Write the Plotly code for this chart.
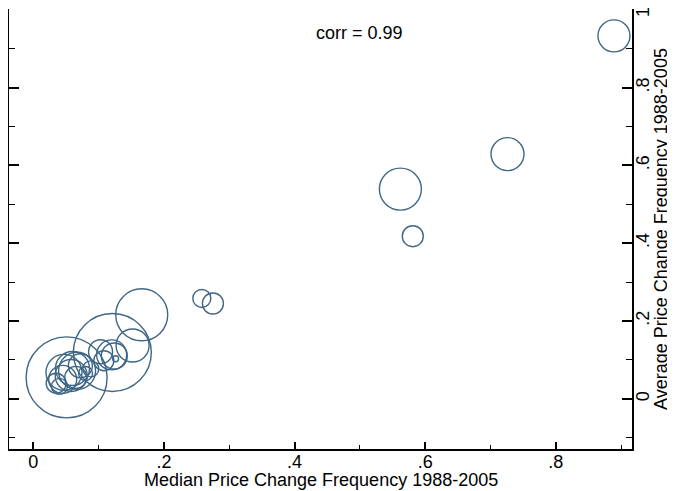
import plotly.graph_objects as go

# Median price change frequency (x), average price change frequency (y), weight (marker diameter)
median_freq = [0.889, 0.726, 0.562, 0.581, 0.258, 0.275, 0.166, 0.121, 0.051, 0.152,
               0.120, 0.124, 0.108, 0.126, 0.047, 0.067, 0.103, 0.088, 0.035, 0.045,
               0.058, 0.065, 0.072, 0.040, 0.060, 0.080]
avg_freq = [0.933, 0.629, 0.539, 0.418, 0.258, 0.245, 0.216, 0.119, 0.055, 0.137,
            0.113, 0.110, 0.098, 0.103, 0.068, 0.072, 0.121, 0.077, 0.040, 0.050,
            0.060, 0.055, 0.085, 0.032, 0.078, 0.065]
weight = [32, 33, 42, 21, 18, 21, 52, 78, 81, 33,
          30, 26, 20, 6, 36, 37, 24, 16, 20, 28,
          32, 22, 24, 16, 34, 14]

xtick_vals = [0, 0.2, 0.4, 0.6, 0.8]
xtick_text = ["0", ".2", ".4", ".6", ".8"]
ytick_vals = [0, 0.2, 0.4, 0.6, 0.8, 1.0]
ytick_text = ["0", ".2", ".4", ".6", ".8", "1\u00a0\u00a0"]

color = "#3f6685"
font = "Liberation Sans, Arial, Helvetica, sans-serif"
fs = 18

fig = go.Figure()
fig.add_trace(go.Scatter(
    x=median_freq, y=avg_freq, mode="markers",
    marker=dict(symbol="circle-open", size=weight, sizemode="diameter", opacity=1,
                color=color, line=dict(color=color, width=1.4)),
    showlegend=False, hoverinfo="skip",
))

fig.add_annotation(x=0.5, y=0.94, xref="x", yref="y", text="corr = 0.99",
                   showarrow=False, font=dict(family=font, size=fs, color="black"))

# axis titles
fig.add_annotation(x=0.5, y=0, xref="paper", yref="paper", yshift=-31,
                   xanchor="center", yanchor="middle", showarrow=False,
                   text="Median Price Change Frequency 1988-2005",
                   font=dict(family=font, size=fs, color="black"))
fig.add_annotation(x=1, y=0.5, xref="paper", yref="paper", xshift=29,
                   xanchor="center", yanchor="middle", showarrow=False, textangle=-90,
                   text="Average Price Change Frequency 1988-2005",
                   font=dict(family=font, size=fs, color="black"))

fig.update_layout(
    width=667, height=483,
    margin=dict(l=1, r=43, t=1, b=42),
    paper_bgcolor="white", plot_bgcolor="white",
    font=dict(family=font, size=fs, color="black"),
    xaxis=dict(
        range=[-0.0372, 0.9166], showgrid=False, zeroline=False, automargin=False,
        showline=True, linecolor="black", linewidth=2,
        ticks="inside", ticklen=7, tickwidth=1.5, tickcolor="black",
        tickvals=xtick_vals, ticktext=xtick_text,
        minor=dict(ticks="inside", ticklen=4, tickwidth=1.2, tickcolor="black",
                   tickvals=[0.1, 0.3, 0.5, 0.7, 0.9], showgrid=False),
        tickfont=dict(size=fs), ticklabelstandoff=-5,
    ),
    yaxis=dict(
        range=[-0.129, 1.002], side="right", showgrid=False, zeroline=False, automargin=False,
        showline=True, linecolor="black", linewidth=2, mirror="ticks",
        ticks="inside", ticklen=10, tickwidth=1.5, tickcolor="black",
        tickvals=ytick_vals, ticktext=ytick_text, tickangle=-90,
        ticklabeloverflow="allow",
        minor=dict(ticks="inside", ticklen=6, tickwidth=1.2, tickcolor="black",
                   tickvals=[-0.1, 0.1, 0.3, 0.5, 0.7, 0.9], showgrid=False),
        tickfont=dict(size=fs), ticklabelstandoff=-7,
    ),
)

fig.write_html("out.html")
